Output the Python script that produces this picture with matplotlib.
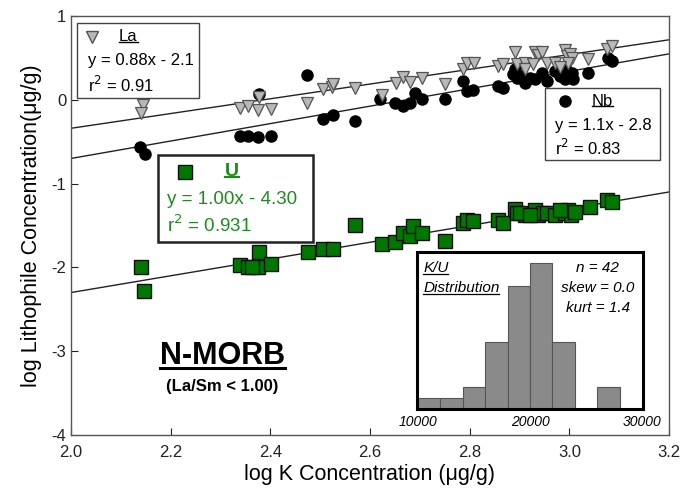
import matplotlib.pyplot as plt
import numpy as np
from matplotlib.patches import Rectangle
from matplotlib.lines import Line2D

plt.rcParams['font.family'] = ['Liberation Sans', 'DejaVu Sans']
plt.rcParams['axes.unicode_minus'] = False

# log K vs log La / Nb / U, N-MORB samples
la_x = [2.144, 2.140, 2.339, 2.355, 2.375, 2.401, 2.377, 2.474, 2.506, 2.524, 2.526, 2.570,
        2.624, 2.652, 2.666, 2.680, 2.704, 2.751, 2.787, 2.795, 2.809, 2.857, 2.867, 2.891,
        2.895, 2.911, 2.931, 2.937, 2.945, 2.955, 2.971, 2.991, 2.995, 3.001, 3.005, 2.997,
        3.038, 3.076, 3.086, 2.911, 2.927, 2.981]
la_y = [-0.06, -0.155, -0.095, -0.07, -0.12, -0.105, 0.035, -0.035, 0.13, 0.155, 0.19, 0.145,
        0.06, 0.20, 0.275, 0.215, 0.26, 0.19, 0.37, 0.44, 0.44, 0.405, 0.43, 0.57,
        0.43, 0.44, 0.57, 0.535, 0.57, 0.44, 0.44, 0.595, 0.525, 0.55, 0.50, 0.44,
        0.49, 0.61, 0.645, 0.37, 0.43, 0.39]

nb_x = [2.138, 2.149, 2.339, 2.355, 2.375, 2.401, 2.377, 2.474, 2.506, 2.526, 2.570, 2.620,
        2.650, 2.666, 2.680, 2.690, 2.704, 2.751, 2.787, 2.795, 2.807, 2.857, 2.867, 2.891,
        2.887, 2.895, 2.911, 2.931, 2.945, 2.955, 2.971, 2.991, 2.995, 2.991, 3.005, 3.007,
        3.038, 3.078, 3.086, 2.901, 2.921, 2.981]
nb_y = [-0.56, -0.645, -0.43, -0.43, -0.44, -0.43, 0.07, 0.30, -0.225, -0.18, -0.25, 0.01,
        -0.035, -0.07, -0.035, 0.085, 0.01, 0.01, 0.225, 0.105, 0.12, 0.165, 0.14, 0.37,
        0.31, 0.26, 0.20, 0.25, 0.32, 0.225, 0.345, 0.405, 0.31, 0.25, 0.32, 0.25,
        0.32, 0.50, 0.465, 0.285, 0.26, 0.285]

u_x = [2.140, 2.146, 2.339, 2.355, 2.375, 2.377, 2.401, 2.476, 2.506, 2.526, 2.570, 2.624,
       2.650, 2.666, 2.680, 2.686, 2.704, 2.751, 2.787, 2.795, 2.807, 2.857, 2.867, 2.891,
       2.895, 2.911, 2.931, 2.937, 2.947, 2.955, 2.971, 2.991, 2.997, 3.003, 3.042, 3.076,
       3.086, 2.901, 2.921, 2.981, 3.011, 2.363]
u_y = [-2.0, -2.285, -1.975, -2.0, -2.0, -1.82, -1.965, -1.82, -1.775, -1.785, -1.50, -1.715,
       -1.70, -1.595, -1.63, -1.51, -1.595, -1.69, -1.465, -1.44, -1.45, -1.44, -1.465, -1.30,
       -1.355, -1.38, -1.32, -1.38, -1.355, -1.345, -1.37, -1.345, -1.31, -1.37, -1.285, -1.19,
       -1.215, -1.345, -1.37, -1.32, -1.335, -1.99]

# regression lines (slope, intercept)
la_fit = (0.88, -2.1)
nb_fit = (1.04, -2.78)
u_fit = (1.00, -4.30)

# K/U histogram
ku_bins = [10000, 12000, 14000, 16000, 18000, 20000, 22000, 24000, 26000]
ku_counts = [1, 1, 2, 6, 11, 13, 6, 0, 2]

green = '#1f8a1f'

fig = plt.figure(figsize=(6.92, 4.91), dpi=100)
ax = fig.add_axes([71 / 692, 56 / 491, 598 / 692, 419 / 491])

xx = np.array([2.0, 3.2])
for m, b in (la_fit, nb_fit, u_fit):
    ax.plot(xx, m * xx + b, color='#222222', lw=1.0, zorder=2)

ax.plot(nb_x, nb_y, 'o', ms=8, mfc='black', mec='black', zorder=3)
ax.plot(la_x, la_y, 'v', ms=8.5, mfc='#b8b8b8', mec='#555555', mew=0.9, zorder=4)
ax.plot(u_x, u_y, 's', ms=9.5, mfc='#007800', mec='#111111', mew=1.0, zorder=4)

ax.set_xlim(2.0, 3.2)
ax.set_ylim(-4, 1)
ax.set_xticks(np.arange(2.0, 3.21, 0.2))
ax.set_xticklabels(['%.1f' % v for v in np.arange(2.0, 3.21, 0.2)])
ax.set_yticks(range(-4, 2))
ax.tick_params(direction='in', length=5, labelsize=12, colors='#222222', width=0.8)
ax.tick_params(axis='x', pad=7)
for s in ax.spines.values():
    s.set_color('#555555')
    s.set_linewidth(1.0)
ax.set_xlabel('log K Concentration (\u03bcg/g)', fontsize=15.5, labelpad=3)
ax.set_ylabel('log Lithophile Concentration(\u03bcg/g)', fontsize=15.5, labelpad=7)

fig.canvas.draw()
renderer = fig.canvas.get_renderer()


def underline(t, color='black', lw=1.0, up=0.14):
    # line just under the baseline of text t
    bb = t.get_window_extent(renderer)
    y = bb.y0 + up * bb.height
    inv = fig.transFigure.inverted()
    (x0, y0), (x1, _) = inv.transform([(bb.x0, y), (bb.x1, y)])
    fig.add_artist(Line2D([x0, x1], [y0, y0], color=color, lw=lw))


# La box
ax.add_patch(Rectangle((0.010, 0.804), 0.204, 0.179, transform=ax.transAxes,
                       fill=True, fc='white', ec='#444444', lw=1.0, zorder=6))
ax.plot([0.035], [0.950], 'v', ms=8.5, mfc='#b8b8b8', mec='#555555', transform=ax.transAxes, zorder=7)
t = ax.text(0.096, 0.950, 'La', transform=ax.transAxes, fontsize=12, ha='center', va='center', zorder=7)
fig.canvas.draw()
underline(t)
ax.text(0.028, 0.893, 'y = 0.88x - 2.1', transform=ax.transAxes, fontsize=12, va='center', zorder=7)
ax.text(0.028, 0.836, 'r$^2$ = 0.91', transform=ax.transAxes, fontsize=12, va='center', zorder=7)

# Nb box
ax.add_patch(Rectangle((0.793, 0.656), 0.192, 0.172, transform=ax.transAxes,
                       fill=True, fc='white', ec='#444444', lw=1.0, zorder=6))
ax.plot([0.826], [0.797], 'o', ms=8, mfc='black', mec='black', transform=ax.transAxes, zorder=7)
t = ax.text(0.889, 0.797, 'Nb', transform=ax.transAxes, fontsize=12, ha='center', va='center', zorder=7)
fig.canvas.draw()
underline(t)
ax.text(0.809, 0.738, 'y = 1.1x - 2.8', transform=ax.transAxes, fontsize=12, va='center', zorder=7)
ax.text(0.809, 0.684, 'r$^2$ = 0.83', transform=ax.transAxes, fontsize=12, va='center', zorder=7)

# U box
ax.add_patch(Rectangle((0.145, 0.461), 0.260, 0.207, transform=ax.transAxes,
                       fill=True, fc='white', ec='#222222', lw=1.8, zorder=6))
ax.plot([0.191], [0.628], 's', ms=9.5, mfc='#007800', mec='#111111', transform=ax.transAxes, zorder=7)
t = ax.text(0.269, 0.630, 'U', transform=ax.transAxes, fontsize=14, fontweight='bold', color=green,
            ha='center', va='center', zorder=7)
fig.canvas.draw()
underline(t, color=green, lw=1.6)
ax.text(0.161, 0.561, 'y = 1.00x - 4.30', transform=ax.transAxes, fontsize=13.5, color=green,
        va='center', zorder=7)
ax.text(0.161, 0.500, 'r$^2$ = 0.931', transform=ax.transAxes, fontsize=13.5, color=green,
        va='center', zorder=7)

# N-MORB label
t = ax.text(0.253, 0.188, 'N-MORB', transform=ax.transAxes, fontsize=22, fontweight='bold',
            ha='center', va='center')
fig.canvas.draw()
underline(t, lw=2.2, up=0.12)
ax.text(0.253, 0.116, '(La/Sm < 1.00)', transform=ax.transAxes, fontsize=12, fontweight='bold',
        ha='center', va='center')

# inset histogram
ins = fig.add_axes([417 / 692, 82 / 491, 226 / 692, 157 / 491])
ins.bar(ku_bins, ku_counts, width=2000, align='edge', color='#8a8a8a', edgecolor='#555555', lw=0.8)
ins.set_xlim(9900, 30100)
ins.set_ylim(0, 14)
ins.set_yticks([])
ins.set_xticks([10000, 20000, 30000])
ins.set_xticklabels(['10000', '20000', '30000'], fontstyle='italic', fontsize=10)
ins.tick_params(axis='x', length=0, pad=4)
for s in ins.spines.values():
    s.set_linewidth(2.2)
    s.set_color('black')
t1 = ins.text(0.027, 0.898, 'K/U', transform=ins.transAxes, fontsize=11, fontstyle='italic', va='center')
t2 = ins.text(0.027, 0.771, 'Distribution', transform=ins.transAxes, fontsize=11, fontstyle='italic',
              va='center')
fig.canvas.draw()
underline(t1, lw=0.9, up=0.1)
underline(t2, lw=0.9, up=0.1)
ins.text(0.80, 0.898, 'n = 42', transform=ins.transAxes, fontsize=11, fontstyle='italic',
         ha='center', va='center')
ins.text(0.80, 0.771, 'skew = 0.0', transform=ins.transAxes, fontsize=11, fontstyle='italic',
         ha='center', va='center')
ins.text(0.80, 0.643, 'kurt = 1.4', transform=ins.transAxes, fontsize=11, fontstyle='italic',
         ha='center', va='center')

fig.savefig('out.png', dpi=100)
